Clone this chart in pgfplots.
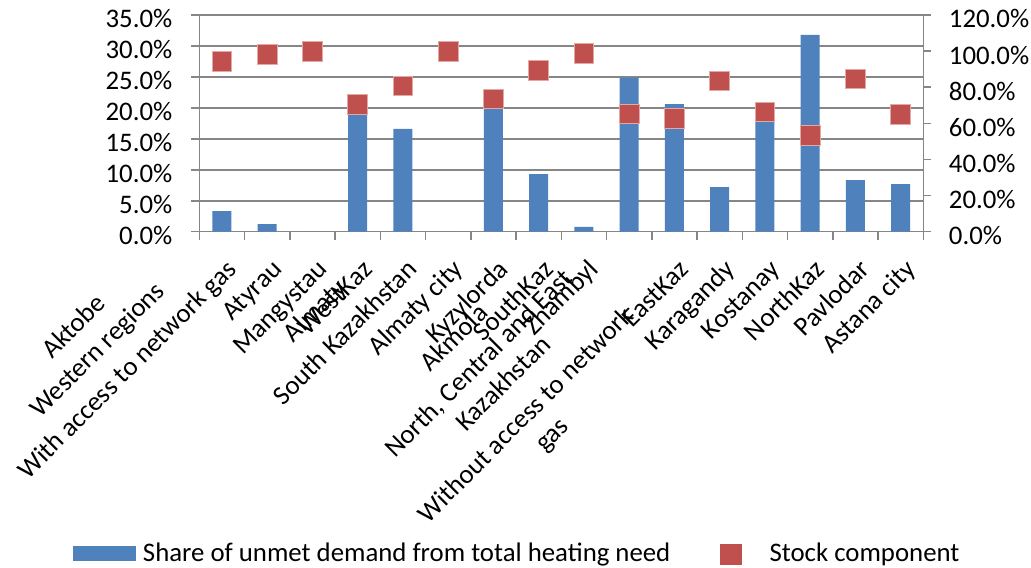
\documentclass[border=0pt]{standalone}
\usepackage{pgfplots}
\pgfplotsset{compat=1.18}
\usepackage{fontspec}
\setmainfont{Carlito}
\definecolor{barblue}{HTML}{4F81BD}
\definecolor{stockred}{HTML}{C0504D}
\definecolor{stockedge}{HTML}{E3A9A7}
\definecolor{axisgray}{HTML}{868686}
\newcommand\chartfont{\fontsize{13.4}{16.3}\selectfont}
\tikzset{catlab/.style={rotate=45, anchor=east, inner sep=0pt,
  text height=0.68em, text depth=0.2em, font=\chartfont}}

\begin{document}
\begin{tikzpicture}
\useasboundingbox (0pt,0pt) rectangle (515.5pt,283.5pt);
% left axis: share of unmet demand (bars)
\begin{axis}[
  at={(99.65pt,167.65pt)}, anchor=south west,
  scale only axis, width=362pt, height=108.35pt,
  xmin=-0.5, xmax=15.5, ymin=0, ymax=35,
  axis x line*=bottom, axis y line*=left,
  axis line style={axisgray, line width=0.8pt, -},
  every tick/.style={axisgray, line width=0.8pt},
  tick align=outside, major tick length=4pt, minor tick length=4pt,
  ytick={0,5,...,35},
  ymajorgrids, grid style={axisgray, line width=0.8pt},
  yticklabel={\pgfmathprintnumber[fixed,fixed zerofill,precision=1,assume math mode=true]{\tick}\%},
  yticklabel style={anchor=base east, inner sep=0pt, xshift=-9.3pt, yshift=-6.5pt, font=\chartfont},
  xtick={0,...,15},
  minor xtick={-0.5,0.5,...,15.5},
  major x tick style={draw=none},
  xticklabels={With access to network gas, Atyrau, Mangystau, WestKaz,
    South Kazakhstan, Almaty city, Kyzylorda, SouthKaz, Zhambyl, {},
    EastKaz, Karagandy, Kostanay, NorthKaz, Pavlodar, Astana city},
  xticklabel style={xshift=6.4pt, yshift=-13.8pt, catlab},
  legend columns=2, legend cell align=left,
  legend style={at={(-0.1745,-1.487)}, anchor=west, draw=none, fill=none,
    inner sep=0pt, outer sep=0pt, font=\chartfont, nodes={inner sep=0pt},
    /tikz/every odd column/.append style={column sep=3.5pt},
    /tikz/every even column/.append style={column sep=14.6pt}},
]
\addplot[ybar, bar width=9.5pt, fill=barblue, draw=none,
  legend image code/.code={\fill[barblue] (0pt,-3.75pt) rectangle (31.5pt,3.75pt);}]
  coordinates {
  (0,3.34) (1,1.24) (2,0) (3,19.5) (4,16.6) (5,0) (6,20.5) (7,9.3)
  (8,0.76) (9,24.9) (10,20.6) (11,7.2) (12,18.5) (13,31.8) (14,8.35) (15,7.7)};
\addlegendentry{Share of unmet demand from total heating need}
\addlegendimage{legend image code/.code={\path[draw=none] (0pt,0pt) rectangle (31.5pt,0pt);
  \fill[stockred] (10.6pt,-5pt) rectangle (20.9pt,5pt);}}
\addlegendentry{Stock component}
\end{axis}
% right axis: stock component (markers)
\begin{axis}[
  at={(99.65pt,167.65pt)}, anchor=south west,
  scale only axis, width=362pt, height=108.35pt,
  xmin=-0.5, xmax=15.5, ymin=0, ymax=120,
  axis x line=none, axis y line*=right,
  axis line style={axisgray, line width=0.8pt, -},
  every tick/.style={axisgray, line width=0.8pt},
  tick align=outside, major tick length=4pt,
  ytick={0,20,...,120},
  yticklabel={\pgfmathprintnumber[fixed,fixed zerofill,precision=1,assume math mode=true]{\tick}\%},
  yticklabel style={anchor=base west, inner sep=0pt, xshift=8.6pt, yshift=-6.5pt, font=\chartfont},
]
\addplot[only marks, mark=square*, mark size=4.9pt,
  mark options={fill=stockred, draw=stockedge, line width=0.4pt}]
  coordinates {
  (0,94.4) (1,98.2) (2,99.7) (3,70.5) (4,80.7) (5,99.7) (6,73.5) (7,89.4)
  (8,98.8) (9,65.2) (10,62.8) (11,83.6) (12,66.3) (13,53.2) (14,84.6) (15,64.8)};
\end{axis}
% group labels of the category axis
\begin{scope}[x=0.5pt, y=-0.5pt, shift={(0pt,283.5pt)}]
\node[catlab] at (104,301) {Aktobe};
\node[catlab] at (163,289) {Western regions};
\node[catlab] at (345,286) {Almaty};
\node[catlab] at (486,311) {Akmola};
\node[catlab] at (571,276) {North, Central and East};
\node[catlab] at (549,343) {Kazakhstan};
\node[catlab] at (632,314) {Without access to network};
\node[catlab] at (567,424) {gas};
\end{scope}
\end{tikzpicture}
\end{document}
